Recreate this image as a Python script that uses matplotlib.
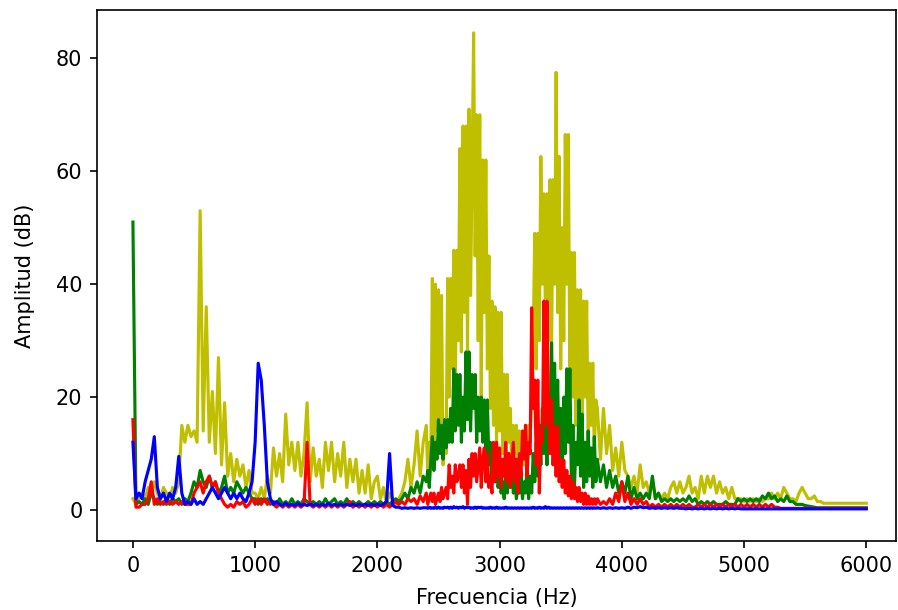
import numpy as np
import matplotlib
matplotlib.use('Agg')
import matplotlib.pyplot as plt

# frequency grid: 25 Hz step, 12.5 Hz step in the busy 2400-3800 Hz band
freq = (list(range(0, 2400, 25))
        + [2400 + 12.5 * i for i in range(113)]
        + list(range(3825, 6001, 25)))

# amplitudes (dB)
amp_y = [
    # 0 - 2375 Hz (25 Hz)
    2, 1, 2, 3, 2, 4, 3, 5, 3, 2, 4, 3, 2, 4, 3, 5, 15, 12, 15, 13,
    14, 12, 53, 14, 36, 12, 21, 10, 27, 8, 19, 6, 10, 5, 9, 6, 8, 4, 7, 3,
    3, 2, 4, 2, 6, 3, 11, 6, 10, 5, 17, 8, 12, 7, 12, 6, 10, 19, 5, 11,
    6, 9, 4, 12, 7, 12, 5, 10, 6, 12, 4, 9, 5, 9, 3, 7, 3, 8, 2, 5,
    6, 2, 4, 1, 3, 2, 1, 2, 3, 5, 9, 4, 8, 14, 6, 12,
    # 2400 - 3800 Hz (12.5 Hz)
    15, 6, 12, 8, 41, 10, 40, 14,
    39, 12, 38, 8, 16, 10, 41, 20,
    41, 25, 46, 22, 46, 30, 64, 28,
    68, 35, 68, 28, 71, 38, 60, 84.5,
    45, 70, 30, 70, 20, 62, 35, 62,
    25, 45, 18, 37, 15, 36, 12, 35,
    14, 35, 10, 24, 8, 24, 12, 18,
    7, 15, 10, 15, 6, 14, 9, 12,
    8, 15, 10, 15, 12, 20, 30, 49,
    25, 49, 30, 62.6, 40, 56, 35, 56,
    30, 58.5, 28, 58.5, 40, 77.5, 35, 62.6,
    25, 50, 30, 66.5, 40, 66.5, 22, 45.6,
    20, 45.6, 15, 39, 18, 39, 14, 37,
    20, 37, 12, 26, 15, 26, 10, 19.5,
    18,
    # 3825 - 6000 Hz (25 Hz)
    9, 18, 10, 15, 7, 11, 6,
    12, 7, 6, 4, 6, 3, 8, 4, 5, 3, 5, 2, 3, 2, 3, 2, 4, 5, 3, 5,
    3, 4, 6, 3, 4, 2, 6, 3, 6, 4, 6, 3, 5, 3, 4, 2, 4, 2, 2, 2,
    1.5, 2, 1.5, 2, 1.5, 2, 1.5, 2, 2, 3, 2, 3, 2, 4, 3, 2, 2, 1.5, 3, 4,
    3, 2, 2, 2.5, 1.5, 1.5, 1.2, 1.2, 1.2, 1.2, 1.2, 1.2, 1.2, 1.2, 1.2, 1.2, 1.2, 1.2, 1.2, 1.2,
    1.2]

amp_g = [
    51, 1, 1.5, 1, 2, 1, 3, 2, 1, 1.5, 1, 2, 1, 2, 1.5, 2, 1, 2, 1.5, 3,
    5, 4, 7, 5, 4, 6, 4, 5, 3, 4, 6, 3, 4, 3, 5, 4, 3, 4, 3, 2,
    2, 1, 2, 1.5, 2, 1, 1.5, 1, 2, 1, 1.5, 1, 2, 1, 1.5, 1, 2, 1.5, 1, 1.5,
    1, 1.5, 1, 2, 1, 1.5, 2, 1, 1.5, 1, 2, 1, 1.5, 1, 1.5, 1, 1, 1.5, 1, 1.5,
    1, 1.5, 1, 1.5, 1, 1.5, 2, 1.5, 2, 3, 2, 4, 3, 5, 3, 6,
    5, 7, 4, 9, 13, 7, 12, 9,
    16, 10, 15, 9, 16, 11, 16, 12,
    18, 12, 25, 14, 24, 15, 24, 12,
    20, 14, 28, 16, 28, 14, 24, 18,
    24, 12, 20, 14, 20, 12, 19.5, 10,
    19.5, 8, 12, 6, 10, 5, 8, 4,
    6, 3, 5, 2, 7, 3, 10, 4,
    8, 3, 5, 2, 4, 3, 6, 2,
    5, 3, 8, 2, 6, 3, 10, 5,
    12, 6, 15, 8, 18, 10, 16, 8,
    20, 12, 29.6, 14, 26, 10, 23, 8,
    18, 6, 20, 10, 25, 12, 25, 5,
    15, 4, 12, 8, 19.5, 6, 17, 4,
    12, 5, 14, 6, 11, 4, 13, 5,
    9,
    5, 8, 4, 7, 4, 6, 3,
    5, 3, 6, 2, 4, 2, 3, 2, 3, 2, 6, 2, 3, 1.5, 2, 1.5, 2, 1.5, 2, 1.5,
    2, 1.5, 2.5, 1.5, 2, 1, 1.5, 1, 1.5, 1, 1.5, 1, 1, 1, 1.5, 1, 1, 1, 2, 1.5,
    2, 1.5, 2, 1.5, 2, 1.5, 2.5, 2, 3, 2, 2.5, 1.5, 2, 1.5, 2.5, 1.5, 1.5, 1, 1, 1,
    0.8, 0.7, 0.6, 0.5, 0.4, 0.4, 0.4, 0.4, 0.4, 0.4, 0.4, 0.4, 0.4, 0.4, 0.4, 0.4, 0.4, 0.4, 0.4, 0.4,
    0.4]

amp_r = [
    16, 0.5, 0.5, 1, 1, 2, 5, 1, 2, 1, 1.5, 1, 1.5, 1, 1.5, 1, 1.5, 1, 1, 1,
    3, 4, 5, 3, 5, 6, 4, 5, 3, 2, 1, 0.5, 1, 0.5, 1.5, 1, 1.5, 0.5, 1, 2,
    1, 2, 1, 2, 1, 1.5, 1, 0.5, 1, 0.5, 1, 0.5, 1, 0.5, 1, 0.5, 1, 12, 1, 0.5,
    1, 0.5, 1, 0.5, 1, 0.5, 1, 0.5, 1, 0.5, 1, 1.5, 0.5, 1, 0.5, 1, 0.5, 1, 0.5, 1,
    0.5, 1, 0.5, 1, 0.5, 1, 1.5, 1, 1.5, 1, 2, 1.5, 2, 1, 2.5, 1.5,
    3, 1, 2, 3, 1.5, 3, 1, 2,
    3, 1.5, 4, 2, 3, 4, 2, 8,
    4, 6, 3, 8, 5, 6, 8, 4,
    8, 3, 7, 1, 9, 4, 10, 6,
    10, 5, 8, 11, 4, 9, 11, 5,
    10, 4, 6, 3, 12, 5, 12, 6,
    11, 4, 9, 6, 12, 5, 10, 4,
    8, 12, 5, 9, 3, 10, 6, 14,
    9, 15, 6, 12, 10, 35.8, 18, 23,
    8, 23, 3, 14, 12, 37, 15, 37,
    19.5, 10, 19.5, 8, 14.8, 6, 14.8, 5,
    9, 4, 8.8, 3, 7, 2.5, 6, 2,
    5, 2, 4, 1.5, 4, 1.5, 3, 1,
    3, 1, 2.5, 1, 2, 1, 2, 1,
    2,
    1, 1.5, 1, 2, 1, 3, 1.5,
    5, 1.5, 3, 1, 2, 1, 2, 1, 1.5, 0.5, 1, 0.5, 1, 0.5, 1, 0.5, 1, 0.5, 1, 0.5,
    1, 0.5, 1, 0.5, 0.5, 1, 0.5, 1, 0.5, 1, 0.5, 1, 0.5, 1, 0.5, 1, 0.5, 1, 0.5, 1,
    0.5, 1, 0.5, 1, 0.5, 1, 0.5, 1, 0.5, 1, 0.5, 0.5, 0.3, 0.3, 0.3, 0.3, 0.3, 0.3, 0.3, 0.3,
    0.3, 0.3, 0.3, 0.3, 0.3, 0.3, 0.3, 0.3, 0.3, 0.3, 0.3, 0.3, 0.3, 0.3, 0.3, 0.3, 0.3, 0.3, 0.3, 0.3,
    0.3]

amp_b = [
    12, 2, 3, 2, 5, 7, 9, 13, 4, 2, 3, 1.5, 3, 2, 4, 9.5, 3, 1, 1.5, 1,
    2, 1, 1.5, 1, 2, 3, 4, 3, 2, 3, 4, 3, 2, 3, 2, 3, 2, 1.5, 3, 5,
    12, 26, 23, 15, 5, 2, 1, 1.5, 1, 0.8, 1.2, 0.8, 1, 0.8, 1.2, 0.8, 1, 0.8, 1, 0.8,
    1, 0.8, 1, 0.8, 1.2, 0.8, 1, 0.8, 1, 0.8, 1, 0.8, 1, 0.8, 1, 0.8, 1, 0.8, 1, 0.8,
    1, 0.8, 1, 1.5, 10, 0.8, 0.5, 0.5, 0.3, 0.4, 0.3, 0.4, 0.3, 0.4, 0.3, 0.4,
    0.4, 0.3, 0.5, 0.3, 0.4, 0.3, 0.5, 0.3,
    0.5, 0.3, 0.4, 0.3, 0.5, 0.4, 0.5, 0.3,
    0.5, 0.3, 0.6, 0.4, 0.5, 0.3, 0.5, 0.4,
    0.6, 0.3, 0.5, 0.4, 0.5, 0.3, 0.4, 0.3,
    0.5, 0.3, 0.5, 0.4, 0.5, 0.3, 0.4, 0.3,
    0.4, 0.3, 0.5, 0.3, 0.4, 0.3, 0.5, 0.3,
    0.4, 0.3, 0.4, 0.3, 0.5, 0.3, 0.4, 0.3,
    0.4, 0.3, 0.4, 0.3, 0.4, 0.3, 0.4, 0.3,
    0.4, 0.3, 0.4, 0.3, 0.4, 0.3, 0.5, 0.3,
    0.4, 0.3, 0.5, 0.3, 0.4, 0.3, 0.6, 0.3,
    0.5, 0.3, 0.4, 0.3, 0.4, 0.3, 0.4, 0.3,
    0.4, 0.3, 0.4, 0.3, 0.4, 0.3, 0.4, 0.3,
    0.4, 0.3, 0.4, 0.3, 0.4, 0.3, 0.4, 0.3,
    0.4, 0.3, 0.4, 0.3, 0.4, 0.3, 0.4, 0.3,
    0.4,
    0.3, 0.4, 0.3, 0.4, 0.3, 0.4, 0.3,
    0.4, 0.3, 0.5, 0.3, 0.5, 0.4, 0.6, 0.4, 0.5, 0.3, 0.4, 0.3, 0.4, 0.3, 0.4, 0.3, 0.4, 0.3, 0.4, 0.3,
    0.3, 0.2, 0.3, 0.2, 0.3, 0.2, 0.3, 0.2, 0.3, 0.2, 0.3, 0.2, 0.3, 0.2, 0.3, 0.2, 0.3, 0.2, 0.3, 0.2,
    0.2, 0.2, 0.2, 0.2, 0.2, 0.2, 0.2, 0.2, 0.2, 0.2, 0.2, 0.2, 0.2, 0.2, 0.2, 0.2, 0.2, 0.2, 0.2, 0.2,
    0.2, 0.2, 0.2, 0.2, 0.2, 0.2, 0.2, 0.2, 0.2, 0.2, 0.2, 0.2, 0.2, 0.2, 0.2, 0.2, 0.2, 0.2, 0.2, 0.2,
    0.2]

# notebook-style figure rendered at 150 dpi -> 898 x 610 px
fig = plt.figure(figsize=(898 / 150, 610 / 150), dpi=150)
ax = fig.add_axes([0.108, 0.113, 0.89, 0.871])

ax.plot(freq, amp_y, 'y')
ax.plot(freq, amp_g, 'g')
ax.plot(freq, amp_r, 'r')
ax.plot(freq, amp_b, 'b')

ax.set_xlim(-294, 6245)
ax.set_ylim(-5.5, 88.6)
ax.set_xticks([0, 1000, 2000, 3000, 4000, 5000, 6000])
ax.set_yticks([0, 20, 40, 60, 80])
ax.set_xlabel('Frecuencia (Hz)', labelpad=6)
ax.set_ylabel('Amplitud (dB)', labelpad=10)

fig.savefig('out.png', dpi=150)
